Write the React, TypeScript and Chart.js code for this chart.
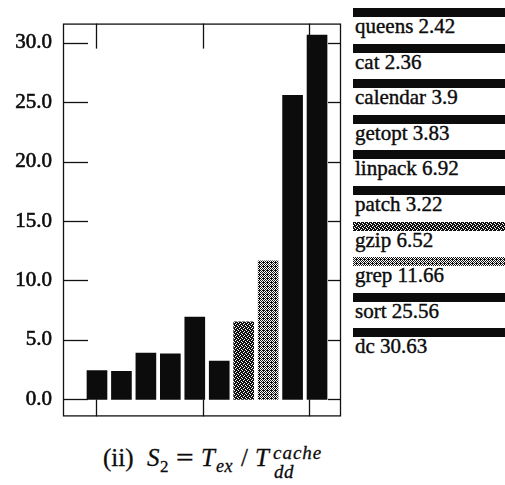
import React, { useEffect, useMemo, useRef } from 'react';
import { Chart, registerables } from 'chart.js';

Chart.register(...registerables);

// ---- data ----
const benchmarks = ['queens', 'cat', 'calendar', 'getopt', 'linpack', 'patch', 'gzip', 'grep', 'sort', 'dc'];
const barPositions = [1, 2, 3, 4, 5, 6, 7, 8, 9, 10];
const speedups = [2.42, 2.36, 3.9, 3.83, 6.92, 3.22, 6.52, 11.66, 25.56, 30.63];
const speedupLabels = ['2.42', '2.36', '3.9', '3.83', '6.92', '3.22', '6.52', '11.66', '25.56', '30.63'];
const yTickValues = [0, 5, 10, 15, 20, 25, 30];
const xFrameTickValues = [0.98, 5.34, 9.69];

// ---- styles ----
const fillKinds = ['solid', 'solid', 'solid', 'solid', 'solid', 'solid', 'dark', 'mid', 'solid', 'solid'];
const SERIF = '"Liberation Serif", "Times New Roman", serif';
const INK = '#0c0c0c';

const patternCells: Record<string, number[][]> = {
  dark: [
    [1, 1, 1, 0],
    [1, 0, 1, 1],
    [1, 1, 0, 1],
    [0, 1, 1, 1],
  ],
  mid: [
    [1, 0, 1, 0],
    [0, 1, 0, 1],
    [1, 0, 1, 1],
    [0, 1, 0, 1],
  ],
};

function makePatternCanvas(kind: string): HTMLCanvasElement {
  const cells = patternCells[kind];
  const c = document.createElement('canvas');
  c.width = cells[0].length;
  c.height = cells.length;
  const g = c.getContext('2d')!;
  g.fillStyle = '#fff';
  g.fillRect(0, 0, c.width, c.height);
  g.fillStyle = '#111';
  cells.forEach((row, y) => row.forEach((v, x) => { if (v) g.fillRect(x, y, 1, 1); }));
  return c;
}

const framePlugin = {
  id: 'frameTicks',
  afterDatasetsDraw(chart: any) {
    const { ctx, chartArea: a, scales } = chart;
    const x = scales.x;
    const y = scales.y;
    ctx.save();
    ctx.strokeStyle = '#111';
    ctx.lineWidth = 1.3;
    const line = (x1: number, y1: number, x2: number, y2: number) => {
      ctx.beginPath();
      ctx.moveTo(x1, y1);
      ctx.lineTo(x2, y2);
      ctx.stroke();
    };
    ctx.strokeRect(a.left + 0.5, a.top + 0.5, a.right - a.left - 1, a.bottom - a.top - 1);
    yTickValues.forEach((v) => {
      const py = Math.round(y.getPixelForValue(v)) + 0.5;
      line(a.left, py, a.left + 25, py);
      line(a.right - 13, py, a.right, py);
    });
    const zeroY = y.getPixelForValue(0);
    xFrameTickValues.forEach((v) => {
      const px = Math.round(x.getPixelForValue(v)) + 0.5;
      line(px, a.top, px, a.top + 25);
      line(px, a.bottom, px, zeroY);
    });
    ctx.restore();
  },
};

const piece = (left: number, baseline: number, size: number, extra: any = {}) => ({
  position: 'absolute' as const,
  left,
  top: baseline - 0.84 * size,
  fontSize: size,
  lineHeight: `${size}px`,
  whiteSpace: 'nowrap' as const,
  ...extra,
});

export default function App() {
  const canvasRef = useRef<HTMLCanvasElement | null>(null);
  const patterns = useMemo(() => {
    const out: Record<string, HTMLCanvasElement> = {};
    Object.keys(patternCells).forEach((k) => { out[k] = makePatternCanvas(k); });
    return out;
  }, []);

  useEffect(() => {
    const canvas = canvasRef.current!;
    const ctx = canvas.getContext('2d')!;
    const fills = fillKinds.map((k) => (k === 'solid' ? INK : ctx.createPattern(patterns[k], 'repeat')));
    const chart = new Chart(canvas, {
      type: 'bar',
      data: {
        datasets: [
          {
            label: 'S2',
            data: barPositions.map((x, i) => ({ x, y: speedups[i] })),
            backgroundColor: fills as any,
            borderWidth: 0,
            barThickness: 20,
          },
        ],
      },
      options: {
        animation: false,
        responsive: false,
        maintainAspectRatio: false,
        layout: { padding: { top: 17, right: 4, bottom: 7, left: 0 } },
        plugins: {
          legend: { display: false },
          tooltip: { enabled: false },
          title: { display: false },
        },
        scales: {
          x: {
            type: 'linear',
            min: -0.39,
            max: 10.98,
            offset: false,
            display: false,
            grid: { offset: false },
          },
          y: {
            type: 'linear',
            min: -1.43,
            max: 31.6,
            afterBuildTicks: (s: any) => {
              s.ticks = yTickValues.map((v) => ({ value: v }));
            },
            afterFit: (s: any) => {
              s.width = 63;
            },
            grid: { display: false, drawTicks: false },
            border: { display: false },
            ticks: {
              padding: 11,
              color: INK,
              textStrokeColor: INK,
              textStrokeWidth: 0.6,
              font: { family: SERIF, size: 21 },
              callback: (v: any) => Number(v).toFixed(1),
            },
          },
        },
      } as any,
      plugins: [framePlugin],
    });
    return () => chart.destroy();
  }, [patterns]);

  const legendBg = (k: string) =>
    k === 'solid' ? { background: INK } : { backgroundImage: `url(${patterns[k].toDataURL()})` };

  return (
    <div style={{ position: 'fixed', left: 0, top: 0, width: 505, height: 485, background: '#fff', overflow: 'hidden' }}>
      <canvas ref={canvasRef} width={345} height={440} style={{ position: 'absolute', left: 0, top: 0, width: 345, height: 440 }} />
      {benchmarks.map((name, i) => {
        const top = 8 + i * 35.6;
        return (
          <div key={name}>
            <div style={{ position: 'absolute', left: 353, top, width: 152, height: 9, ...legendBg(fillKinds[i]) }} />
            <div
              style={{
                position: 'absolute',
                left: 355,
                top: top + 8,
                fontFamily: SERIF,
                fontSize: 21,
                lineHeight: '21px',
                color: INK,
                WebkitTextStroke: `0.4px ${INK}`,
                whiteSpace: 'nowrap',
              }}
            >
              {name} {speedupLabels[i]}
            </div>
          </div>
        );
      })}
      <div style={{ position: 'absolute', left: 0, top: 0, fontFamily: SERIF, color: INK, WebkitTextStroke: `0.3px ${INK}` }}>
        <span style={piece(103, 466, 25)}>(ii)</span>
        <i style={piece(147, 466, 25)}>S</i>
        <span style={piece(160, 472, 17)}>2</span>
        <span style={piece(176, 466, 25, { transform: 'scaleX(1.25)', transformOrigin: 'left center' })}>=</span>
        <i style={piece(201, 466, 25)}>T</i>
        <i style={piece(216, 472, 18, { letterSpacing: 0.5 })}>ex</i>
        <span style={piece(241, 466, 25)}>/</span>
        <i style={piece(255, 466, 25)}>T</i>
        <i style={piece(273, 459, 19, { letterSpacing: 1 })}>cache</i>
        <i style={piece(274, 478, 19, { letterSpacing: 0.5 })}>dd</i>
      </div>
    </div>
  );
}
